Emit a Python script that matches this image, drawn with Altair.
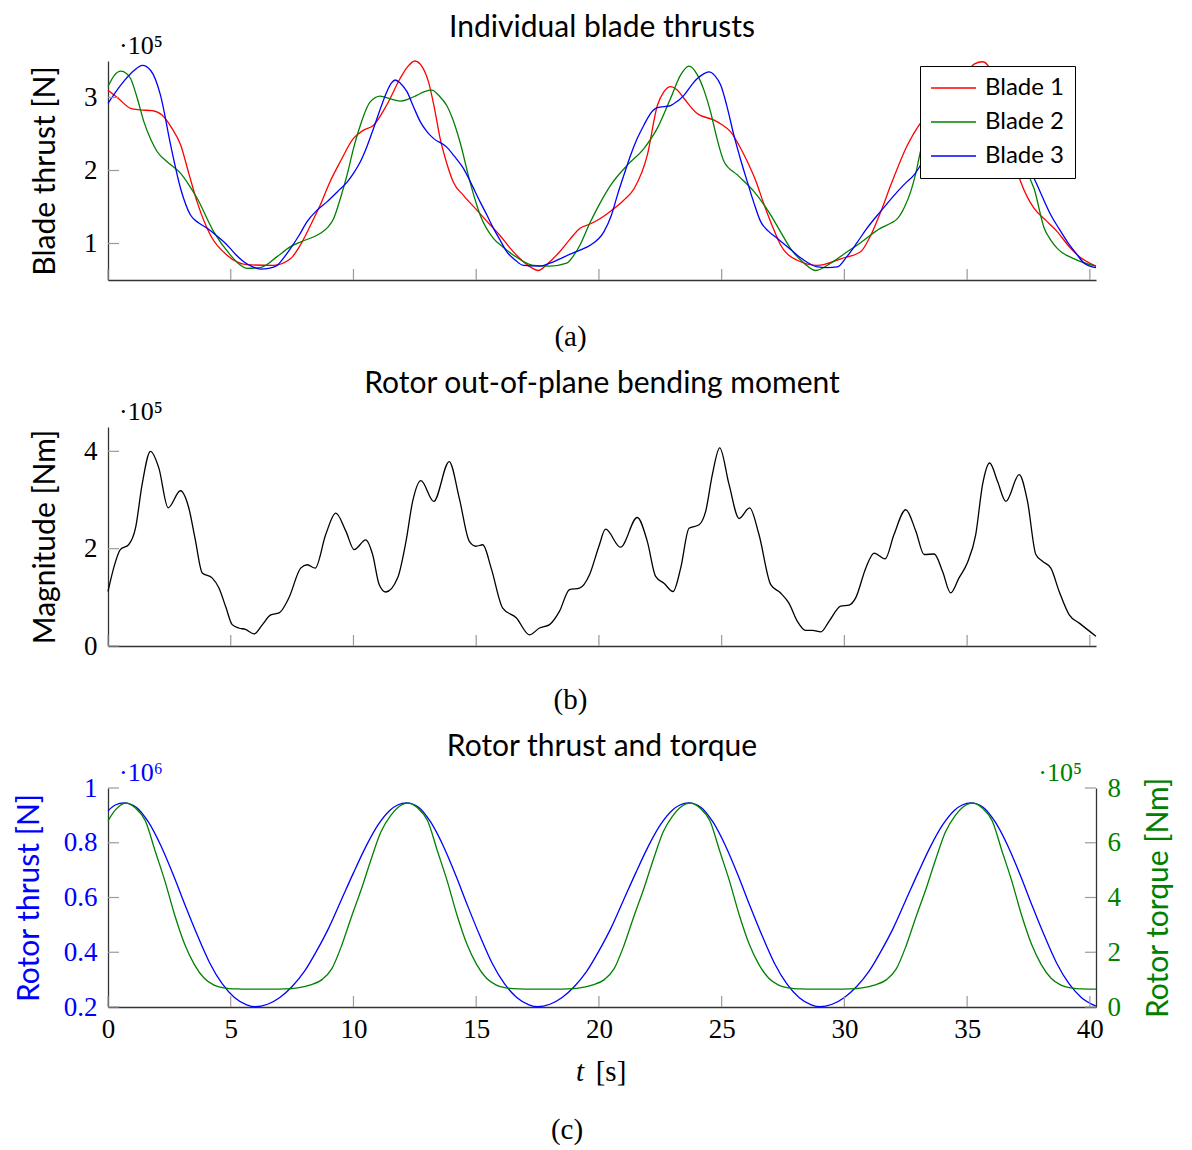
import altair as alt
import pandas as pd

# ---------------- data ----------------
# (a) individual blade thrusts [x1e5 N]
b1_t = [0.0, 0.45, 0.92, 1.3, 1.8, 2.2, 2.6, 2.96, 3.3, 3.63, 4.18, 4.85, 5.67, 6.75, 7.43, 7.84, 8.25, 8.65, 9.05, 9.46,
        10.0, 10.4, 10.82, 11.36, 11.9, 12.2, 12.5, 12.8, 13.06, 13.3, 13.53, 13.8, 14.07, 14.48, 15.02, 15.5, 15.97, 16.4, 16.79, 17.2,
        17.53, 17.9, 18.41, 18.8, 19.23, 19.66, 20.04, 20.5, 21.0, 21.43, 21.97, 22.38, 22.65, 22.92, 23.2, 23.46, 24.0, 24.69, 25.0, 25.37,
        25.7, 26.05, 26.4, 26.73, 27.05, 27.4, 28.08, 28.9, 29.85, 30.67, 31.07, 31.5, 31.89, 32.57, 33.0, 33.6, 34.3, 34.9, 35.3, 35.63,
        35.95, 36.3, 36.7, 37.19, 37.73, 38.2, 38.68, 39.1, 39.5, 40.25]
b1_v = [3.10, 2.98, 2.85, 2.83, 2.82, 2.76, 2.58, 2.35, 1.95, 1.57, 1.11, 0.84, 0.71, 0.70, 0.79, 0.98, 1.25, 1.53, 1.85, 2.12,
        2.44, 2.55, 2.62, 2.90, 3.26, 3.42, 3.50, 3.42, 3.21, 2.85, 2.44, 2.10, 1.84, 1.66, 1.46, 1.28, 1.11, 0.93, 0.79, 0.68,
        0.63, 0.72, 0.89, 1.05, 1.21, 1.27, 1.34, 1.45, 1.59, 1.75, 2.21, 2.89, 3.08, 3.15, 3.10, 2.99, 2.78, 2.69, 2.63, 2.53,
        2.35, 2.12, 1.85, 1.53, 1.25, 0.98, 0.77, 0.70, 0.79, 0.89, 1.11, 1.45, 1.80, 2.35, 2.60, 2.85, 3.05, 3.30, 3.46, 3.49,
        3.38, 3.00, 2.40, 1.84, 1.48, 1.32, 1.16, 0.98, 0.84, 0.69]

b2_t = [0.0, 0.25, 0.52, 0.75, 0.92, 1.2, 1.46, 1.75, 2.0, 2.41, 2.96, 3.3, 3.63, 4.31, 4.99, 5.3, 5.67, 6.21, 6.89, 7.4,
        7.84, 8.65, 8.95, 9.19, 9.45, 9.74, 10.0, 10.28, 10.68, 11.09, 11.5, 11.9, 12.25, 12.58, 12.9, 13.19, 13.5, 13.8, 14.05, 14.34,
        14.75, 15.16, 15.7, 16.1, 16.52, 17.33, 18.0, 18.69, 19.0, 19.23, 19.63, 20.04, 20.48, 21.15, 21.83, 22.38, 22.92, 23.33, 23.67, 24.01,
        24.3, 24.55, 24.8, 25.1, 25.64, 26.32, 27.0, 27.4, 27.81, 28.36, 28.83, 29.44, 30.0, 30.53, 31.48, 31.9, 32.16, 32.45, 32.7, 32.9,
        33.1, 33.5, 34.2, 34.8, 35.3, 35.9, 36.5, 37.1, 37.73, 38.14, 38.4, 38.68, 39.36, 40.25]
b2_v = [3.15, 3.30, 3.36, 3.33, 3.26, 2.98, 2.67, 2.42, 2.26, 2.12, 1.96, 1.80, 1.62, 1.16, 0.84, 0.73, 0.66, 0.67, 0.82, 0.95,
        1.02, 1.14, 1.22, 1.34, 1.60, 1.94, 2.30, 2.62, 2.94, 3.02, 2.98, 2.95, 2.98, 3.03, 3.08, 3.10, 3.02, 2.89, 2.70, 2.39,
        1.84, 1.39, 1.07, 0.95, 0.84, 0.70, 0.69, 0.73, 0.85, 0.98, 1.28, 1.55, 1.80, 2.07, 2.30, 2.58, 2.99, 3.31, 3.43, 3.31,
        3.08, 2.80, 2.45, 2.12, 1.94, 1.71, 1.39, 1.16, 0.93, 0.73, 0.63, 0.73, 0.86, 0.98, 1.21, 1.28, 1.34, 1.50, 1.71, 1.95,
        2.26, 2.60, 3.00, 3.25, 3.30, 3.10, 2.60, 2.15, 1.75, 1.21, 1.05, 0.93, 0.79, 0.69]

b3_t = [0.0, 0.52, 1.06, 1.4, 1.74, 2.14, 2.55, 2.96, 3.36, 3.7, 4.04, 4.45, 4.85, 5.2, 5.53, 5.9, 6.21, 6.55, 6.89, 7.15,
        7.43, 7.8, 8.11, 8.5, 8.92, 9.35, 9.74, 10.0, 10.28, 10.55, 10.82, 11.1, 11.36, 11.55, 11.7, 11.9, 12.18, 12.45, 12.72, 13.0,
        13.26, 13.8, 14.1, 14.48, 14.8, 15.16, 15.45, 15.7, 16.0, 16.24, 16.6, 16.92, 17.6, 18.0, 18.41, 18.8, 19.23, 19.66, 20.2, 20.5,
        20.75, 21.0, 21.29, 21.55, 21.83, 22.1, 22.38, 22.92, 23.2, 23.46, 23.75, 24.01, 24.25, 24.48, 24.72, 24.96, 25.2, 25.5, 25.77, 26.05,
        26.32, 26.59, 26.9, 27.27, 27.7, 28.08, 28.5, 28.9, 29.3, 29.71, 30.1, 30.53, 30.9, 31.35, 31.75, 32.16, 32.5, 32.84, 33.1, 33.6,
        34.3, 35.0, 35.6, 36.2, 36.8, 37.3, 37.73, 38.05, 38.41, 38.75, 39.09, 39.45, 39.77, 40.25]
b3_v = [2.92, 3.17, 3.37, 3.44, 3.37, 3.03, 2.35, 1.75, 1.39, 1.28, 1.21, 1.10, 0.98, 0.85, 0.75, 0.68, 0.65, 0.66, 0.70, 0.80,
        0.93, 1.12, 1.30, 1.45, 1.57, 1.71, 1.84, 1.96, 2.12, 2.33, 2.58, 2.85, 3.08, 3.20, 3.24, 3.20, 3.08, 2.87, 2.67, 2.53,
        2.44, 2.32, 2.20, 2.03, 1.82, 1.57, 1.38, 1.21, 1.03, 0.89, 0.77, 0.70, 0.69, 0.73, 0.79, 0.85, 0.91, 0.98, 1.16, 1.38,
        1.66, 1.92, 2.21, 2.43, 2.62, 2.78, 2.86, 2.89, 2.95, 3.03, 3.16, 3.26, 3.32, 3.35, 3.30, 3.17, 2.90, 2.48, 2.15, 1.84,
        1.55, 1.30, 1.17, 1.07, 0.95, 0.84, 0.74, 0.68, 0.67, 0.68, 0.82, 1.02, 1.20, 1.39, 1.55, 1.71, 1.83, 1.94, 2.07, 2.35,
        2.70, 2.95, 3.10, 3.00, 2.55, 2.15, 1.89, 1.65, 1.39, 1.20, 1.02, 0.86, 0.73, 0.67]

blade_names = ["Blade 1", "Blade 2", "Blade 3"]
blade_colors = ["#ff0000", "#008000", "#0000ff"]

# (b) out-of-plane bending moment magnitude [x1e5 Nm]
m_t = [0.0, 0.23, 0.5, 0.84, 1.12, 1.39, 1.73, 2.07, 2.45, 2.95, 3.29, 3.55, 3.84, 4.24, 4.52, 4.8, 5.06, 5.33, 5.6, 5.95,
       6.29, 6.63, 6.97, 7.37, 7.85, 8.12, 8.44, 8.87, 9.28, 9.69, 10.03, 10.5, 10.78, 11.05, 11.32, 11.8, 12.14, 12.41, 12.75, 13.27,
       13.9, 14.31, 14.72, 14.99, 15.27, 15.61, 16.08, 16.63, 17.17, 17.58, 17.99, 18.39, 18.8, 19.21, 19.62, 20.0, 20.27, 20.88, 21.56, 21.97,
       22.31, 22.65, 23.02, 23.33, 23.67, 24.08, 24.35, 24.62, 24.92, 25.3, 25.71, 26.14, 26.52, 27.0, 27.4, 27.74, 28.08, 28.42, 28.7, 29.04,
       29.38, 29.85, 30.19, 30.46, 30.87, 31.21, 31.66, 32.02, 32.5, 32.91, 33.25, 33.66, 34.0, 34.33, 34.67, 35.01, 35.35, 35.63, 35.92, 36.24,
       36.58, 37.12, 37.46, 37.8, 38.07, 38.41, 38.75, 39.16, 39.57, 40.25]
m_v = [1.12, 1.60, 1.98, 2.08, 2.42, 3.32, 4.00, 3.66, 2.84, 3.19, 2.84, 2.20, 1.50, 1.40, 1.19, 0.80, 0.44, 0.37, 0.34, 0.25,
       0.44, 0.64, 0.68, 0.99, 1.60, 1.67, 1.60, 2.29, 2.73, 2.36, 1.98, 2.18, 1.88, 1.26, 1.11, 1.40, 2.15, 2.97, 3.40, 2.97,
       3.79, 3.04, 2.15, 2.05, 2.08, 1.60, 0.78, 0.58, 0.23, 0.37, 0.44, 0.71, 1.16, 1.19, 1.47, 2.05, 2.40, 2.03, 2.64, 2.15,
       1.43, 1.29, 1.12, 1.60, 2.42, 2.49, 2.77, 3.52, 4.07, 3.32, 2.62, 2.84, 2.29, 1.26, 1.09, 0.88, 0.51, 0.32, 0.32, 0.29,
       0.51, 0.82, 0.84, 0.99, 1.60, 1.91, 1.79, 2.29, 2.80, 2.36, 1.88, 1.89, 1.53, 1.09, 1.40, 1.71, 2.29, 3.32, 3.76, 3.38,
       2.97, 3.52, 2.97, 1.88, 1.74, 1.60, 1.12, 0.64, 0.47, 0.20]

# (c) rotor thrust [x1e6 N] and rotor torque [x1e5 Nm]
thrust_t = [0.0, 0.3, 0.65, 1.15, 1.65, 2.15, 2.65, 3.15, 3.65, 4.15, 4.65, 5.15, 5.65, 6.0, 6.5, 7.0, 7.5, 8.0, 8.5, 9.0,
            9.5, 10.0, 10.5, 11.0, 11.5, 11.8, 12.15, 12.65, 13.15, 13.65, 14.15, 14.65, 15.15, 15.65, 16.15, 16.65, 17.15, 17.5, 18.0, 18.5,
            19.0, 19.5, 20.0, 20.5, 21.0, 21.5, 22.0, 22.5, 23.0, 23.3, 23.65, 24.15, 24.65, 25.15, 25.65, 26.15, 26.65, 27.15, 27.65, 28.15,
            28.65, 29.0, 29.5, 30.0, 30.5, 31.0, 31.5, 32.0, 32.5, 33.0, 33.5, 34.0, 34.5, 34.8, 35.15, 35.65, 36.15, 36.65, 37.15, 37.65,
            38.15, 38.65, 39.15, 39.65, 40.25]
thrust_v = [0.917, 0.938, 0.946, 0.93, 0.875, 0.79, 0.685, 0.57, 0.46, 0.36, 0.285, 0.235, 0.208, 0.201, 0.21, 0.235, 0.275, 0.33, 0.405, 0.49,
            0.59, 0.69, 0.785, 0.865, 0.92, 0.938, 0.946, 0.93, 0.875, 0.79, 0.685, 0.57, 0.46, 0.36, 0.285, 0.235, 0.208, 0.201, 0.21, 0.235,
            0.275, 0.33, 0.405, 0.49, 0.59, 0.69, 0.785, 0.865, 0.92, 0.938, 0.946, 0.93, 0.875, 0.79, 0.685, 0.57, 0.46, 0.36, 0.285, 0.235,
            0.208, 0.201, 0.21, 0.235, 0.275, 0.33, 0.405, 0.49, 0.59, 0.69, 0.785, 0.865, 0.92, 0.938, 0.946, 0.93, 0.875, 0.79, 0.685, 0.57,
            0.46, 0.36, 0.285, 0.235, 0.203]

torque_t = [0.0, 0.3, 0.72, 1.12, 1.52, 1.92, 2.32, 2.72, 3.12, 3.52, 3.92, 4.32, 4.72, 5.22, 5.72, 6.72, 7.22, 7.72, 8.22, 8.72,
            9.12, 9.52, 9.92, 10.32, 10.72, 11.12, 11.52, 11.82, 12.22, 12.62, 13.02, 13.42, 13.82, 14.22, 14.62, 15.02, 15.42, 15.82, 16.22, 16.72,
            17.22, 18.22, 18.72, 19.22, 19.72, 20.22, 20.62, 21.02, 21.42, 21.82, 22.22, 22.62, 23.02, 23.32, 23.72, 24.12, 24.52, 24.92, 25.32, 25.72,
            26.12, 26.52, 26.92, 27.32, 27.72, 28.22, 28.72, 29.72, 30.22, 30.72, 31.22, 31.72, 32.12, 32.52, 32.92, 33.32, 33.72, 34.12, 34.52, 34.82,
            35.22, 35.62, 36.02, 36.42, 36.82, 37.22, 37.62, 38.02, 38.42, 38.82, 39.22, 39.72, 40.25]
torque_v = [6.8, 7.2, 7.45, 7.27, 6.8, 5.7, 4.6, 3.35, 2.3, 1.55, 1.05, 0.8, 0.7, 0.66, 0.65, 0.65, 0.66, 0.7, 0.8, 1.0,
            1.4, 2.25, 3.3, 4.3, 5.4, 6.4, 7.0, 7.3, 7.45, 7.27, 6.8, 5.7, 4.6, 3.35, 2.3, 1.55, 1.05, 0.8, 0.7, 0.66,
            0.65, 0.65, 0.66, 0.7, 0.8, 1.0, 1.4, 2.25, 3.3, 4.3, 5.4, 6.4, 7.0, 7.3, 7.45, 7.27, 6.8, 5.7, 4.6, 3.35,
            2.3, 1.55, 1.05, 0.8, 0.7, 0.66, 0.65, 0.65, 0.66, 0.7, 0.8, 1.0, 1.4, 2.25, 3.3, 4.3, 5.4, 6.4, 7.0, 7.3,
            7.45, 7.27, 6.8, 5.7, 4.6, 3.35, 2.3, 1.55, 1.05, 0.8, 0.7, 0.66, 0.65]

# tick values
x_ticks = [0, 5, 10, 15, 20, 25, 30, 35, 40]
ya_ticks = [1, 2, 3]
yb_ticks = [0, 2, 4]
yc_left_ticks = [0.2, 0.4, 0.6, 0.8, 1.0]
yc_right_ticks = [0, 2, 4, 6, 8]

# ---------------- styling ----------------
W, H = 988, 219
SANS = "Lato"
SERIF = "Liberation Serif"
AX = "#333333"
TK = "#9a9a9a"
TL = 11
BLUE, GREEN = "#0000ff", "#008000"
TICK_FS = 27
AXT_FS = 30

X_SCALE = alt.Scale(domain=[0, 40.25], nice=False, zero=False)


def xtick_layer(xaxis):
    return alt.Chart(pd.DataFrame({"t": x_ticks})).mark_rule(color=TK, strokeWidth=1.2).encode(
        x=alt.X("t:Q", scale=X_SCALE, axis=xaxis),
        y=alt.value(H), y2=alt.value(H - TL))


def ytick_layer(vals, scale, yax, right=False):
    x0, x1 = (W - TL, W) if right else (0, TL)
    return alt.Chart(pd.DataFrame({"v": vals})).mark_rule(color=TK, strokeWidth=1.2).encode(
        y=alt.Y("v:Q", scale=scale, axis=yax),
        x=alt.value(x0), x2=alt.value(x1))


def text_layer(txt, x, y, color="black", size=26, align="left", font=SERIF, style="normal", baseline="alphabetic"):
    return alt.Chart(pd.DataFrame({"s": [txt]})).mark_text(
        align=align, baseline=baseline, font=font, fontSize=size, color=color, fontStyle=style
    ).encode(text="s:N", x=alt.value(x), y=alt.value(y))


def yaxis(title, vals, title_x, color="black", orient="left", fmt=None):
    kw = dict(values=vals, title=title, orient=orient, titleFont=SANS, titleFontSize=AXT_FS, titleFontWeight="normal",
              titleColor=color, titleAngle=270, titleX=title_x, titleY=H / 2, titleAlign="center",
              titleBaseline="middle", labelFont=SERIF, labelFontSize=TICK_FS, labelColor=color, labelPadding=11,
              ticks=False, domainColor=AX, domainWidth=1.3, grid=False)
    if fmt:
        kw["format"] = fmt
    return alt.Axis(**kw)


def caption_xaxis(cap, ty):
    return alt.Axis(values=x_ticks, labels=False, ticks=False, domainColor=AX, domainWidth=1.3, grid=False, title=cap,
                    titleFont=SERIF, titleFontSize=29, titleFontWeight="normal", titleX=462, titleY=ty,
                    titleAlign="center", titleBaseline="middle", titleColor="black")


def ptitle(txt, off):
    return alt.TitleParams(txt, font=SANS, fontSize=30, fontWeight="normal", anchor="middle", frame="group",
                           offset=off, color="black")


# ---------------- panel (a) ----------------
df_a = pd.concat([
    pd.DataFrame({"t": b1_t, "v": b1_v, "blade": blade_names[0]}),
    pd.DataFrame({"t": b2_t, "v": b2_v, "blade": blade_names[1]}),
    pd.DataFrame({"t": b3_t, "v": b3_v, "blade": blade_names[2]}),
])
ya_scale = alt.Scale(domain=[0.5, 3.5], nice=False, zero=False)
xa_axis = caption_xaxis("(a)", 56)
ya_axis = yaxis("Blade thrust [N]", ya_ticks, -63)
lines_a = alt.Chart(df_a).mark_line(strokeWidth=1.3, interpolate="monotone").encode(
    x=alt.X("t:Q", scale=X_SCALE, axis=xa_axis),
    y=alt.Y("v:Q", scale=ya_scale, axis=ya_axis),
    color=alt.Color("blade:N", scale=alt.Scale(domain=blade_names, range=blade_colors),
                    legend=alt.Legend(orient="none", legendX=812, legendY=5, title=None, symbolType="stroke",
                                      symbolSize=2025, symbolStrokeWidth=1.3, labelFont=SANS, labelFontSize=24,
                                      labelOffset=8, padding=10, rowPadding=10, clipHeight=24,
                                      strokeColor="black", fillColor="white", labelColor="black")),
)
panel_a = alt.layer(
    lines_a, xtick_layer(xa_axis), ytick_layer(ya_ticks, ya_scale, ya_axis),
    text_layer("·10⁵", 11, -7),
).properties(width=W, height=H, title=ptitle("Individual blade thrusts", -10))

# ---------------- panel (b) ----------------
yb_scale = alt.Scale(domain=[0, 4.5], nice=False, zero=False)
xb_axis = caption_xaxis("(b)", 53)
yb_axis = yaxis("Magnitude [Nm]", yb_ticks, -63)
line_b = alt.Chart(pd.DataFrame({"t": m_t, "v": m_v})).mark_line(
    strokeWidth=1.3, color="black", interpolate="monotone").encode(
    x=alt.X("t:Q", scale=X_SCALE, axis=xb_axis),
    y=alt.Y("v:Q", scale=yb_scale, axis=yb_axis),
)
panel_b = alt.layer(
    line_b, xtick_layer(xb_axis), ytick_layer(yb_ticks, yb_scale, yb_axis),
    text_layer("·10⁵", 11, -7),
).properties(width=W, height=H, title=ptitle("Rotor out-of-plane bending moment", 0))

# ---------------- panel (c) ----------------
yl_scale = alt.Scale(domain=[0.2, 1.0], nice=False, zero=False)
yr_scale = alt.Scale(domain=[0, 8], nice=False, zero=False)
xc_axis = alt.Axis(values=x_ticks, title=None, labelFont=SERIF, labelFontSize=TICK_FS, labelColor="black",
                   labelPadding=9, labelFlush=False, labelOverlap=False, ticks=False,
                   domainColor=AX, domainWidth=1.3, grid=False)
yl_axis = yaxis("Rotor thrust [N]", yc_left_ticks, -79, BLUE, fmt="~g")
yr_axis = yaxis("Rotor torque [Nm]", yc_right_ticks, 62, GREEN, orient="right")
line_thrust = alt.Chart(pd.DataFrame({"t": thrust_t, "v": thrust_v})).mark_line(
    strokeWidth=1.3, color=BLUE, interpolate="monotone").encode(
    x=alt.X("t:Q", scale=X_SCALE, axis=xc_axis),
    y=alt.Y("v:Q", scale=yl_scale, axis=yl_axis),
)
line_torque = alt.Chart(pd.DataFrame({"t": torque_t, "v": torque_v})).mark_line(
    strokeWidth=1.3, color=GREEN, interpolate="monotone").encode(
    x=alt.X("t:Q", scale=X_SCALE, axis=xc_axis),
    y=alt.Y("v:Q", scale=yr_scale, axis=yr_axis),
)
left_c = alt.layer(
    line_thrust, xtick_layer(xc_axis), ytick_layer(yc_left_ticks, yl_scale, yl_axis),
    text_layer("·10⁶", 11, -7, color=BLUE),
    text_layer("t", 472, H + 65, size=29, align="center", style="italic", baseline="middle"),
    text_layer("[s]", 503, H + 65, size=29, align="center", baseline="middle"),
    text_layer("(c)", 459, H + 123, size=29, align="center", baseline="middle"),
)
right_c = alt.layer(
    line_torque, ytick_layer(yc_right_ticks, yr_scale, yr_axis, right=True),
    text_layer("·10⁵", W - 14, -7, color=GREEN, align="right"),
)
panel_c = alt.layer(left_c, right_c).resolve_scale(y="independent").properties(
    width=W, height=H, title=ptitle("Rotor thrust and torque", -2))

chart = alt.vconcat(panel_a, panel_b, panel_c, spacing=18).properties(
    padding={"left": 6, "top": 5, "right": 5, "bottom": 0}
).configure(font=SANS, background="white").configure_view(stroke=None)

chart.save("out.html", embed_options={"renderer": "svg", "actions": False})
